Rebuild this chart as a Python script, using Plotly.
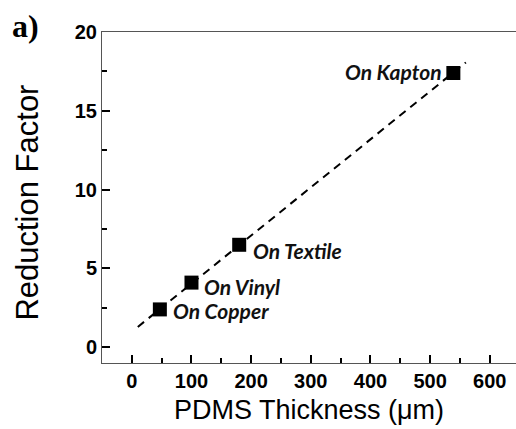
import plotly.graph_objects as go

# Data
substrates = ["On Copper", "On Vinyl", "On Textile", "On Kapton"]
thickness_um = [47, 100, 180, 539]
reduction_factor = [2.4, 4.1, 6.5, 17.4]

fit_x = [10, 560]
fit_y = [1.29, 18.07]

x_tick_step = 100
y_tick_step = 5

fig = go.Figure()

fig.add_trace(go.Scatter(
    x=thickness_um, y=reduction_factor, mode="markers",
    marker=dict(symbol="square", size=14, color="black"),
    showlegend=False,
))

fig.add_trace(go.Scatter(
    x=fit_x, y=fit_y, mode="lines",
    line=dict(color="black", width=2, dash="8px,6px"),
    showlegend=False,
))

label_font = dict(family="Lato", size=21, color="#111111", weight="bold", style="italic")
# label placement: (xanchor, xshift, yshift)
placement = {
    "On Copper": ("left", 11, -1),
    "On Vinyl": ("left", 11, -4),
    "On Textile": ("left", 12, -6),
    "On Kapton": ("right", -9, 1),
}
for name, xv, yv in zip(substrates, thickness_um, reduction_factor):
    xa, xs, ys = placement[name]
    fig.add_annotation(
        x=xv, y=yv, xref="x", yref="y", text=name, showarrow=False,
        xanchor=xa, yanchor="middle", xshift=xs, yshift=ys, font=label_font,
    )

fig.add_annotation(
    x=-0.222, y=1.08, xref="paper", yref="paper", xanchor="left", yanchor="top",
    text="a)", showarrow=False,
    font=dict(family="Liberation Serif", size=32, color="black", weight="bold"),
)

fig.add_annotation(
    x=-0.18, y=0.486, xref="paper", yref="paper", xanchor="center", yanchor="middle",
    text="Reduction Factor", textangle=-90, showarrow=False,
    font=dict(family="Liberation Sans", size=31, color="black"),
)

fig.update_xaxes(
    range=[-50, 644], tick0=0, dtick=x_tick_step, mirror=True,
    showline=True, linecolor="#555555",
    ticks="inside", ticklen=8, tickwidth=2, tickcolor="black",
    minor=dict(dtick=x_tick_step / 2, ticks="inside", ticklen=5,
               tickwidth=2, tickcolor="black"),
    tickfont=dict(family="Liberation Sans", size=20, color="black"),
    tickprefix="<b>", ticksuffix="</b>",
    title=dict(text="PDMS Thickness (μm)", font=dict(family="Liberation Sans", size=27, color="black"), standoff=9),
)
fig.update_yaxes(
    range=[-1, 20], tick0=0, dtick=y_tick_step,
    showline=True, linecolor="#555555",
    ticks="inside", ticklen=8, tickwidth=2, tickcolor="black",
    minor=dict(dtick=y_tick_step / 2, ticks="inside", ticklen=5,
               tickwidth=2, tickcolor="black"),
    tickfont=dict(family="Liberation Sans", size=20, color="black"),
    tickprefix="<b>", ticksuffix="</b>",
)

fig.update_layout(
    width=516, height=429,
    margin=dict(l=102, r=0, t=32, b=66),
    plot_bgcolor="white", paper_bgcolor="white",
)

fig.write_html("out.html")
